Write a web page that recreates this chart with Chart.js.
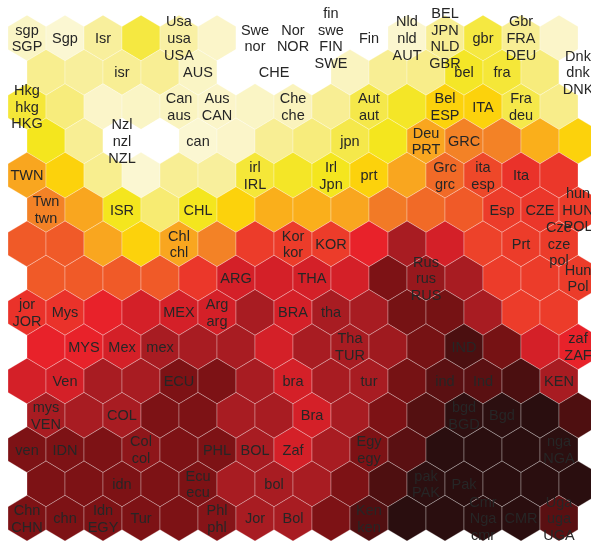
<!DOCTYPE html>
<html><head><meta charset="utf-8">
<script src="https://cdn.jsdelivr.net/npm/chart.js@4.4.0/dist/chart.umd.min.js"></script>
<style>html,body{margin:0;padding:0;background:#fff;overflow:hidden}#wrap{width:591px;height:543px}</style>
</head><body><div id="wrap"><canvas id="c" width="591" height="543"></canvas></div>
<script>
// SOM grid: 15 rows x 15 columns, hexagonal (odd rows shifted by half a cell)
const row00 = [0.08, 0.05, 0.14, 0.26, 0.13, 0.07, 0, 0, 0, 0, 0.06, 0.15, 0.26, 0.15, 0.07];
const row01 = [0.16, 0.14, 0.15, 0.15, 0.08, 0, 0, 0, 0.09, 0.15, 0.17, 0.29, 0.27, 0.2, 0];
const row02 = [0.27, 0.2, 0.07, 0.08, 0.09, 0.07, 0.08, 0.1, 0.15, 0.25, 0.29, 0.35, 0.35, 0.25, 0.17];
const row03 = [0.3, 0.15, 0, 0, 0.05, 0.07, 0.15, 0.2, 0.25, 0.3, 0.4, 0.45, 0.45, 0.39, 0.35];
const row04 = [0.4, 0.35, 0.16, 0.05, 0.15, 0.14, 0.27, 0.29, 0.3, 0.35, 0.4, 0.48, 0.53, 0.57, 0.56];
const row05 = [0.45, 0.4, 0.3, 0.21, 0.3, 0.35, 0.39, 0.39, 0.4, 0.46, 0.48, 0.5, 0.55, 0.56, 0.55];
const row06 = [0.5, 0.5, 0.4, 0.35, 0.4, 0.45, 0.55, 0.55, 0.55, 0.6, 0.7, 0.65, 0.54, 0.55, 0.55];
const row07 = [0.5, 0.5, 0.5, 0.5, 0.56, 0.65, 0.65, 0.65, 0.65, 0.75, 0.72, 0.7, 0.55, 0.55, 0.55];
const row08 = [0.57, 0.57, 0.6, 0.65, 0.65, 0.65, 0.7, 0.65, 0.7, 0.7, 0.76, 0.76, 0.7, 0.55, 0.55];
const row09 = [0.6, 0.6, 0.65, 0.7, 0.7, 0.7, 0.65, 0.7, 0.7, 0.71, 0.76, 0.85, 0.76, 0.65, 0.6];
const row10 = [0.65, 0.65, 0.7, 0.7, 0.75, 0.75, 0.7, 0.65, 0.7, 0.7, 0.76, 0.8, 0.8, 0.85, 0.7];
const row11 = [0.7, 0.7, 0.7, 0.75, 0.75, 0.7, 0.7, 0.65, 0.7, 0.75, 0.82, 0.9, 0.92, 0.95, 0.84];
const row12 = [0.75, 0.75, 0.75, 0.73, 0.75, 0.75, 0.7, 0.65, 0.7, 0.75, 0.8, 0.95, 0.95, 0.95, 0.92];
const row13 = [0.75, 0.75, 0.75, 0.75, 0.75, 0.7, 0.7, 0.7, 0.75, 0.84, 0.92, 0.95, 0.95, 0.95, 0.95];
const row14 = [0.75, 0.75, 0.75, 0.75, 0.75, 0.74, 0.7, 0.7, 0.75, 0.83, 0.95, 0.95, 0.95, 0.95, 0.8];
const gridValues = [row00,row01,row02,row03,row04,row05,row06,row07,row08,row09,row10,row11,row12,row13,row14];

// labels: [row, column, text]
const cellLabels = [
  [0,0,"sgp\nSGP"],[0,1,"Sgp"],[0,2,"Isr"],[0,4,"Usa\nusa\nUSA"],[0,6,"Swe\nnor"],[0,7,"Nor\nNOR"],
  [0,8,"fin\nswe\nFIN\nSWE"],[0,9,"Fin"],[0,10,"Nld\nnld\nAUT"],[0,11,"BEL\nJPN\nNLD\nGBR"],[0,12,"gbr"],[0,13,"Gbr\nFRA\nDEU"],
  [1,2,"isr"],[1,4,"AUS"],[1,6,"CHE"],[1,11,"bel"],[1,12,"fra"],[1,14,"Dnk\ndnk\nDNK"],
  [2,0,"Hkg\nhkg\nHKG"],[2,4,"Can\naus"],[2,5,"Aus\nCAN"],[2,7,"Che\nche"],[2,9,"Aut\naut"],[2,11,"Bel\nESP"],[2,12,"ITA"],[2,13,"Fra\ndeu"],
  [3,2,"Nzl\nnzl\nNZL"],[3,4,"can"],[3,8,"jpn"],[3,10,"Deu\nPRT"],[3,11,"GRC"],
  [4,0,"TWN"],[4,6,"irl\nIRL"],[4,8,"Irl\nJpn"],[4,9,"prt"],[4,11,"Grc\ngrc"],[4,12,"ita\nesp"],[4,13,"Ita"],
  [5,0,"Twn\ntwn"],[5,2,"ISR"],[5,4,"CHL"],[5,12,"Esp"],[5,13,"CZE"],[5,14,"hun\nHUN\nPOL"],
  [6,4,"Chl\nchl"],[6,7,"Kor\nkor"],[6,8,"KOR"],[6,13,"Prt"],[6,14,"Cze\ncze\npol"],
  [7,5,"ARG"],[7,7,"THA"],[7,10,"Rus\nrus\nRUS"],[7,14,"Hun\nPol"],
  [8,0,"jor\nJOR"],[8,1,"Mys"],[8,4,"MEX"],[8,5,"Arg\narg"],[8,7,"BRA"],[8,8,"tha"],
  [9,1,"MYS"],[9,2,"Mex"],[9,3,"mex"],[9,8,"Tha\nTUR"],[9,11,"IND"],[9,14,"zaf\nZAF"],
  [10,1,"Ven"],[10,4,"ECU"],[10,7,"bra"],[10,9,"tur"],[10,11,"ind"],[10,12,"Ind"],[10,14,"KEN"],
  [11,0,"mys\nVEN"],[11,2,"COL"],[11,7,"Bra"],[11,11,"bgd\nBGD"],[11,12,"Bgd"],
  [12,0,"ven"],[12,1,"IDN"],[12,3,"Col\ncol"],[12,5,"PHL"],[12,6,"BOL"],[12,7,"Zaf"],[12,9,"Egy\negy"],[12,14,"nga\nNGA"],
  [13,2,"idn"],[13,4,"Ecu\necu"],[13,6,"bol"],[13,10,"pak\nPAK"],[13,11,"Pak"],
  [14,0,"Chn\nCHN"],[14,1,"chn"],[14,2,"Idn\nEGY"],[14,3,"Tur"],[14,5,"Phl\nphl"],[14,6,"Jor"],[14,7,"Bol"],[14,9,"Ken\nken"],
  [14,12,"Cmr\nNga\ncmr"],[14,13,"CMR"],[14,14,"Uga\nuga\nUGA"]
];

// colour scale stops (value -> colour)
const stopValues = [0, 0.05, 0.10, 0.15, 0.20, 0.25, 0.30, 0.35, 0.40, 0.45, 0.50, 0.55, 0.60, 0.65, 0.70, 0.75, 0.80, 0.85, 0.90, 0.95];
const stopColors = ["#ffffff","#fbf7d2","#faf3bc","#f8ee94","#f7ec7c","#f5e84a","#f4e61e","#fcd20c","#f9a61f","#f38226",
                    "#f05a28","#ec3c2a","#e8222a","#d42028","#a81c22","#7d1215","#5a1012","#4b0f10","#2e0f10","#2a0e0f"];

function hexToRgb(h){return [parseInt(h.substr(1,2),16),parseInt(h.substr(3,2),16),parseInt(h.substr(5,2),16)];}
function colorFor(v){
  if (v <= stopValues[0]) return stopColors[0];
  for (let i = 1; i < stopValues.length; i++) {
    if (v <= stopValues[i]) {
      const t = (v - stopValues[i-1]) / (stopValues[i] - stopValues[i-1]);
      const a = hexToRgb(stopColors[i-1]), b = hexToRgb(stopColors[i]);
      return 'rgb(' + a.map((c,k)=>Math.round(c + (b[k]-c)*t)).join(',') + ')';
    }
  }
  return stopColors[stopColors.length-1];
}

const points = [];
gridValues.forEach((row, r) => row.forEach((v, c) => {
  points.push({x: c + (r % 2 ? 0.5 : 0), y: r, v: v});
}));

const hexPlugin = {
  id: 'hexCells',
  beforeDatasetsDraw(chart) {
    const {ctx, scales:{x, y}} = chart;
    const meta = chart.getDatasetMeta(0);
    const data = chart.data.datasets[0].data;
    const w = x.getPixelForValue(1) - x.getPixelForValue(0);
    const dy = Math.abs(y.getPixelForValue(1) - y.getPixelForValue(0));
    const R = dy * 2 / 3;
    ctx.save();
    meta.data.forEach((pt, i) => {
      const cx = pt.x, cy = pt.y;
      ctx.beginPath();
      ctx.moveTo(cx, cy - R);
      ctx.lineTo(cx + w/2, cy - R/2);
      ctx.lineTo(cx + w/2, cy + R/2);
      ctx.lineTo(cx, cy + R);
      ctx.lineTo(cx - w/2, cy + R/2);
      ctx.lineTo(cx - w/2, cy - R/2);
      ctx.closePath();
      ctx.fillStyle = colorFor(data[i].v);
      ctx.fill();
      ctx.strokeStyle = 'rgba(255,255,255,0.35)';
      ctx.lineWidth = 0.8;
      ctx.stroke();
    });
    ctx.restore();
  },
  afterDatasetsDraw(chart) {
    const {ctx, scales:{x, y}} = chart;
    ctx.save();
    ctx.font = '14.5px "Liberation Sans", Arial, sans-serif';
    ctx.fillStyle = '#262626';
    ctx.textAlign = 'center';
    ctx.textBaseline = 'middle';
    const lh = 16.6;
    cellLabels.forEach(([r, c, txt]) => {
      const px = x.getPixelForValue(c + (r % 2 ? 0.5 : 0));
      const py = y.getPixelForValue(r);
      const lines = txt.split('\n');
      lines.forEach((ln, k) => {
        ctx.fillText(ln, px, py + (k - (lines.length - 1) / 2) * lh + 1);
      });
    });
    ctx.restore();
  }
};

new Chart(document.getElementById('c'), {
  type: 'scatter',
  data: { datasets: [{ data: points, pointRadius: 0, pointHoverRadius: 0 }] },
  options: {
    responsive: false, animation: false, devicePixelRatio: 1,
    layout: { padding: 0 },
    plugins: { legend: { display: false }, tooltip: { enabled: false } },
    scales: {
      x: { type: 'linear', display: false, min: -27/38, max: (591-27)/38 },
      y: { type: 'linear', display: false, reverse: true, min: -38/34.3, max: (543-38)/34.3 }
    }
  },
  plugins: [hexPlugin]
});
</script></body></html>
